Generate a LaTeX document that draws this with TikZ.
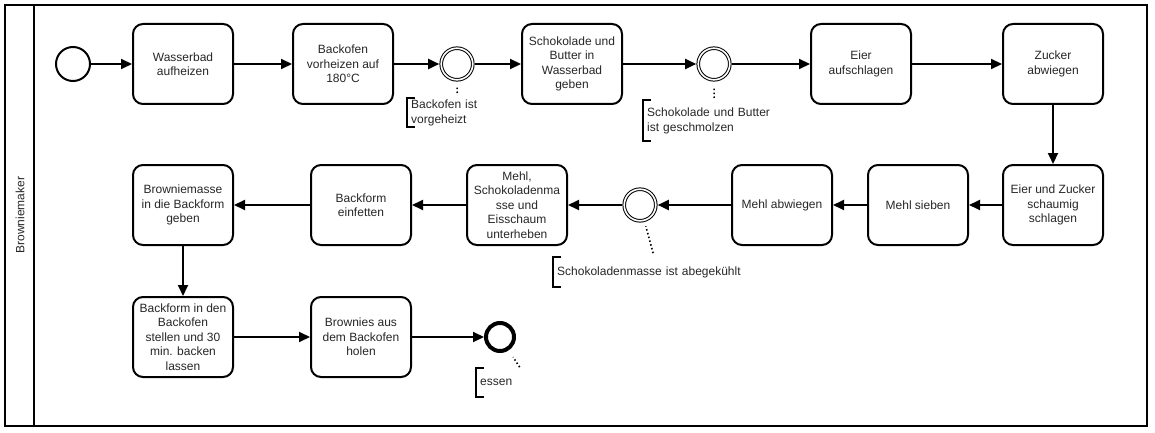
\documentclass[tikz,border=0pt]{standalone}
\usepackage{fontspec}
\setmainfont{Liberation Sans}
\usetikzlibrary{arrows.meta}
\begin{document}
\begin{tikzpicture}[x=1pt,y=-1pt,
  lbl/.style={font=\fontsize{12}{14.4}\selectfont, text=black!85},
  task/.style={lbl, draw=black, line width=2pt, rounded corners=10pt, minimum width=100pt, minimum height=80pt, align=center, inner sep=2pt},
  startev/.style={circle, draw, line width=2pt, minimum size=34pt, inner sep=0pt},
  midev/.style={circle, draw, line width=1pt, double, double distance=1.6pt, minimum size=31.6pt, inner sep=0pt, outer sep=2pt},
  endev/.style={circle, draw, line width=4pt, minimum size=28pt, inner sep=0pt},
  flow/.style={line width=2pt, -{Triangle[length=11pt,width=10pt]}},
  assoc/.style={line width=1.6pt, dash pattern=on 1.5pt off 2.4pt},
  ann/.style={lbl, anchor=north west, align=left, inner xsep=4pt, inner ysep=0pt},
  bracket/.style={line width=2pt},
  frame/.style={line width=2pt}
]
\useasboundingbox (0,0) rectangle (1155,433);
% pool / lane
\draw[frame] (5,5) rectangle (1147,426);
\draw[frame] (34,5) -- (34,426);
\node[lbl, rotate=90] (lane) at (20,215) {Browniemaker};

% row 1
\node[startev] (start) at (73,64) {};
\node[task] (wasser) at (183,64) {Wasserbad\\aufheizen};
\node[task] (backofen) at (343,64) {Backofen\\vorheizen auf\\180°C};
\node[midev] (ev1) at (457,64) {};
\node[task] (schoko) at (572,64) {Schokolade und\\Butter in\\Wasserbad\\geben};
\node[midev] (ev2) at (714,64) {};
\node[task] (eier) at (861,64) {Eier\\aufschlagen};
\node[task] (zucker) at (1053,64) {Zucker\\abwiegen};

% row 2
\node[task] (euz) at (1053,205) {Eier und Zucker\\schaumig\\schlagen};
\node[task] (sieben) at (918,205) {Mehl sieben};
\node[task] (abwiegen) at (782,205) {Mehl abwiegen};
\node[midev] (ev3) at (640,205) {};
\node[task] (unterheben) at (517,205) {Mehl,\\Schokoladenma\\sse und\\Eisschaum\\unterheben};
\node[task] (einfetten) at (361,205) {Backform\\einfetten};
\node[task] (masse) at (183,205) {Browniemasse\\in die Backform\\geben};

% row 3
\node[task] (backen) at (183,337) {Backform in den\\Backofen\\stellen und 30\\min. backen\\lassen};
\node[task] (holen) at (361,337) {Brownies aus\\dem Backofen\\holen};
\node[endev] (ende) at (500,337) {};

% flows
\draw[flow] (start) -- (wasser);
\draw[flow] (wasser) -- (backofen);
\draw[flow] (backofen) -- (ev1);
\draw[flow] (ev1) -- (schoko);
\draw[flow] (schoko) -- (ev2);
\draw[flow] (ev2) -- (eier);
\draw[flow] (eier) -- (zucker);
\draw[flow] (zucker) -- (euz);
\draw[flow] (euz) -- (sieben);
\draw[flow] (sieben) -- (abwiegen);
\draw[flow] (abwiegen) -- (ev3);
\draw[flow] (ev3) -- (unterheben);
\draw[flow] (unterheben) -- (einfetten);
\draw[flow] (einfetten) -- (masse);
\draw[flow] (masse) -- (backen);
\draw[flow] (backen) -- (holen);
\draw[flow] (holen) -- (ende);

% annotations
\node[ann, text width=92pt, minimum height=29pt] (a1) at (407,98) {Backofen ist\\vorgeheizt};
\node[ann, text width=134pt, minimum height=41pt] (a2) at (643,100) {Schokolade und Butter\\ist geschmolzen};
\node[ann, text width=194pt, minimum height=30pt] (a3) at (553,257) {Schokoladenmasse ist abegekühlt};
\node[ann, text width=80pt, minimum height=29pt] (a4) at (476,368) {essen};

\foreach \a in {a1,a2,a3,a4}{
  \draw[bracket] ([xshift=8pt]\a.north west) -- (\a.north west) -- (\a.south west) -- ([xshift=8pt]\a.south west);
}

\draw[assoc, shorten <=5pt, shorten >=23pt] (a1.north) -- (ev1.center);
\draw[assoc, shorten <=2pt, shorten >=24pt] (a2.north) -- (ev2.center);
\draw[assoc, shorten <=4pt, shorten >=22pt] (a3.north) -- (ev3.center);
\draw[assoc, shorten <=1pt, shorten >=24pt] (a4.north) -- (ende.center);
\end{tikzpicture}
\end{document}
